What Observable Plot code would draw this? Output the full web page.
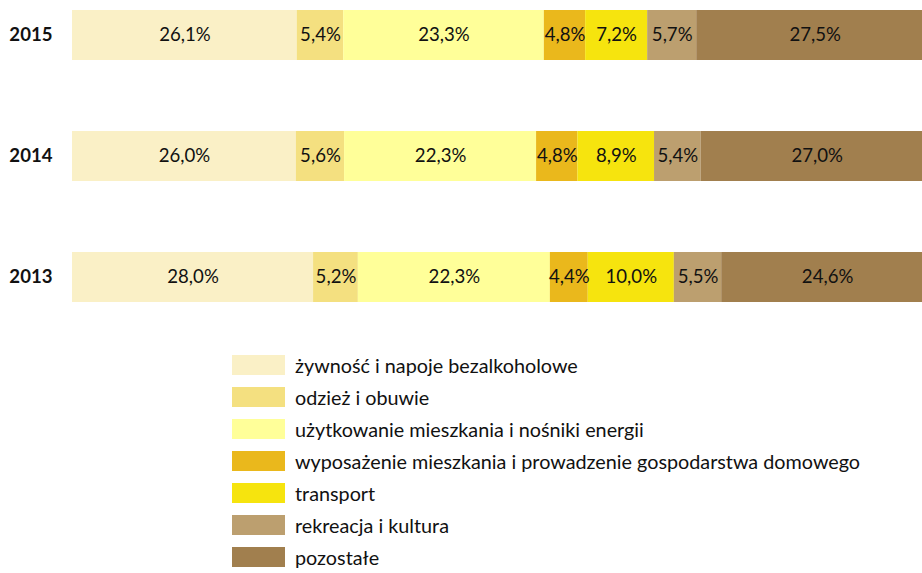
<!DOCTYPE html>
<html>
<head>
<meta charset="utf-8">
<script src="https://cdn.jsdelivr.net/npm/d3@7"></script>
<script src="https://cdn.jsdelivr.net/npm/@observablehq/plot@0.6"></script>
<style>
  html, body { margin: 0; padding: 0; background: #fff; overflow: hidden; width: 922px; height: 573px; }
  #chart svg { overflow: hidden; display: block; }
  #legend { margin-left: 232px; margin-top: 29px; font-family: Lato, "Noto Sans", sans-serif; font-size: 19.8px; color: #111; }
  .row { display: flex; align-items: center; height: 32px; }
  .sw { width: 53px; height: 20px; margin-right: 10px; flex: none; }
</style>
</head>
<body>
<div id="chart"></div>
<div id="legend"></div>
<script>
const years = ["2015", "2014", "2013"];
const categories = [
  "żywność i napoje bezalkoholowe",
  "odzież i obuwie",
  "użytkowanie mieszkania i nośniki energii",
  "wyposażenie mieszkania i prowadzenie gospodarstwa domowego",
  "transport",
  "rekreacja i kultura",
  "pozostałe"
];
const colors = ["#FAF0C6", "#F4E080", "#FFFF99", "#EAB81C", "#F6E40E", "#BC9F6F", "#A17F4E"];
const values2015 = [26.1, 5.4, 23.3, 4.8, 7.2, 5.7, 27.5];
const values2014 = [26.0, 5.6, 22.3, 4.8, 8.9, 5.4, 27.0];
const values2013 = [28.0, 5.2, 22.3, 4.4, 10.0, 5.5, 24.6];

const series = {"2015": values2015, "2014": values2014, "2013": values2013};
const data = [];
for (const y of years) {
  series[y].forEach((v, i) => data.push({year: y, category: categories[i], value: v}));
}
const fmt = v => v.toFixed(1).replace(".", ",") + "%";

const chart = Plot.plot({
  width: 922,
  height: 320,
  marginLeft: 72,
  marginRight: 0,
  marginTop: 0,
  marginBottom: 0,
  style: {fontFamily: "Lato, 'Noto Sans', sans-serif", background: "#fff", overflow: "hidden"},
  x: {domain: [0, 100], range: [72, 933], axis: null},
  y: {domain: years, range: [9, 302], paddingInner: 0.588, paddingOuter: 0, label: null},
  color: {domain: categories, range: colors},
  marks: [
    Plot.barX(data, Plot.stackX({x: "value", y: "year", z: "category", fill: "category", order: categories})),
    Plot.text(data, Plot.stackX({x: "value", y: "year", z: "category", order: categories, text: d => fmt(d.value), fill: "#111", fontSize: 18.6})),
    Plot.axisY({tickSize: 0, tickPadding: 20, fontSize: 18.6, fontWeight: "bold", fill: "#111", label: null})
  ]
});
document.getElementById("chart").appendChild(chart);

const legend = document.getElementById("legend");
categories.forEach((c, i) => {
  const row = document.createElement("div");
  row.className = "row";
  const sw = document.createElement("div");
  sw.className = "sw";
  sw.style.background = colors[i];
  const t = document.createElement("span");
  t.textContent = c;
  row.appendChild(sw);
  row.appendChild(t);
  legend.appendChild(row);
});
</script>
</body>
</html>
